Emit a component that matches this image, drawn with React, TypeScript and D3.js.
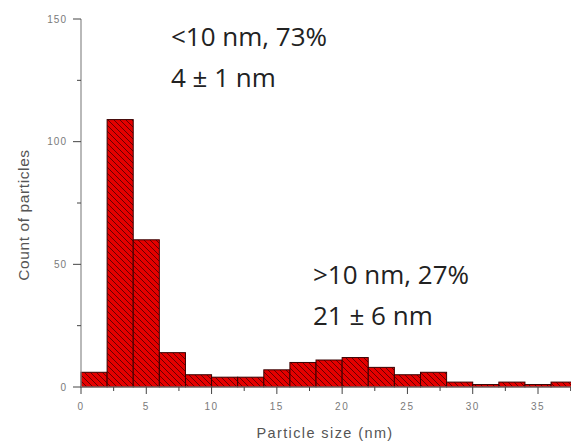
import React from "react";
import * as d3 from "d3";

const binStarts = [0, 2, 4, 6, 8, 10, 12, 14, 16, 18, 20, 22, 24, 26, 28, 30, 32, 34, 36];
const counts = [6, 109, 60, 14, 5, 4, 4, 7, 10, 11, 12, 8, 5, 6, 2, 1, 2, 1, 2];
const binWidth = 2;
const xTicks = [0, 5, 10, 15, 20, 25, 30, 35];
const xMinor = [2.5, 7.5, 12.5, 17.5, 22.5, 27.5, 32.5, 37.5];
const yTicks = [0, 50, 100, 150];
const yMinor = [25, 75, 125];
const annoSmall = ["<10 nm, 73%", "4 ± 1 nm"];
const annoLarge = [">10 nm, 27%", "21 ± 6 nm"];

export default function App() {
  const W = 571, H = 446;
  const x = d3.scaleLinear().domain([0, 35]).range([81, 538]);
  const y = d3.scaleLinear().domain([0, 150]).range([387, 19]);
  const axisColor = "#8a8a8a";
  const labelColor = "#7a7a7a";
  const font = "'Liberation Sans', Arial, sans-serif";
  return (
    <svg width={W} height={H} style={{ position: "absolute", left: 0, top: 0, background: "#fff" }}>
      <defs>
        <pattern id="hatch" patternUnits="userSpaceOnUse" width="6" height="6">
          <rect width="6" height="6" fill="#e40000" />
          <path d="M0,0 L6,6 M-3,3 L3,9 M3,-3 L9,3" stroke="#5a0000" strokeWidth="0.9" />
        </pattern>
      </defs>
      {binStarts.map((s, i) => (
        <rect
          key={i}
          x={x(s)}
          y={y(counts[i])}
          width={x(s + binWidth) - x(s)}
          height={y(0) - y(counts[i])}
          fill="url(#hatch)"
          stroke="#3a0000"
          strokeWidth={1}
        />
      ))}
      {/* y axis */}
      <line x1={x(0)} x2={x(0)} y1={y(0)} y2={y(150)} stroke={axisColor} strokeWidth={1.2} />
      {yTicks.map((t) => (
        <g key={"y" + t}>
          <line x1={x(0) - 8} x2={x(0)} y1={y(t)} y2={y(t)} stroke="#444" strokeWidth={1} />
          <text x={x(0) - 14} y={y(t) + 3.5} textAnchor="end" fontSize={10} fill={labelColor} fontFamily={font} letterSpacing={1}>
            {t}
          </text>
        </g>
      ))}
      {yMinor.map((t) => (
        <line key={"ym" + t} x1={x(0) - 4} x2={x(0)} y1={y(t)} y2={y(t)} stroke="#444" strokeWidth={1} />
      ))}
      {/* x axis */}
      <line x1={x(0)} x2={W} y1={y(0)} y2={y(0)} stroke={axisColor} strokeWidth={1.2} />
      {xTicks.map((t) => (
        <g key={"x" + t}>
          <line x1={x(t)} x2={x(t)} y1={y(0)} y2={y(0) + 7} stroke="#444" strokeWidth={1} />
          <text x={x(t)} y={410} textAnchor="middle" fontSize={10} fill={labelColor} fontFamily={font} letterSpacing={1.5}>
            {t}
          </text>
        </g>
      ))}
      {xMinor.map((t) => (
        <line key={"xm" + t} x1={x(t)} x2={x(t)} y1={y(0)} y2={y(0) + 4} stroke="#444" strokeWidth={1} />
      ))}
      <text x={325} y={438} textAnchor="middle" fontSize={14.5} fill="#555" fontFamily={font} letterSpacing={1.4}>
        Particle size (nm)
      </text>
      <text transform="translate(29,215) rotate(-90)" textAnchor="middle" fontSize={15.5} fill="#555" fontFamily={font} letterSpacing={0.6}>
        Count of particles
      </text>
      {annoSmall.map((s, i) => (
        <text key={"a" + i} x={171} y={46 + i * 41} fontSize={26} fill="#222" fontFamily="'Open Sans', sans-serif">
          {s}
        </text>
      ))}
      {annoLarge.map((s, i) => (
        <text key={"b" + i} x={313} y={284 + i * 41} fontSize={26} fill="#222" fontFamily="'Open Sans', sans-serif">
          {s}
        </text>
      ))}
    </svg>
  );
}
